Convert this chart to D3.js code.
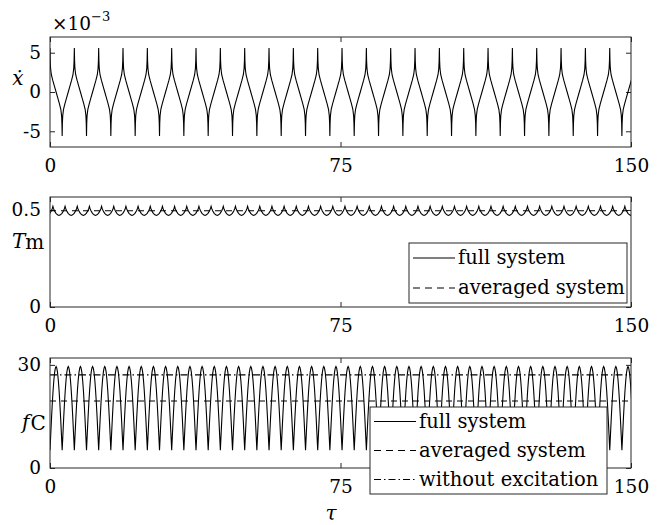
<!DOCTYPE html>
<html>
<head>
<meta charset="utf-8">
<script src="https://cdn.jsdelivr.net/npm/d3@7"></script>
<style>
  body { margin: 0; background: #fff; }
  svg text { font-family: "DejaVu Serif", serif; fill: #000; }
</style>
</head>
<body>
<svg width="661" height="525"></svg>
<script>
// tau axis
const tauMax = 150;
const tauTicks = [0, 75, 150];

// x-dot (x 1e-3): one period, phase in rad
const xdotPeriod = 6.283;
const xdotPhase = [0, 0.06, 0.15, 0.35, 0.7, 1.1, 1.571, 2.04, 2.44, 2.79, 2.99, 3.08, 3.142,
                   3.2, 3.29, 3.49, 3.84, 4.24, 4.712, 5.18, 5.58, 5.93, 6.13, 6.22, 6.283];
const xdotValue = [5.6, 4.0, 3.0, 2.2, 1.5, 0.8, 0, -0.8, -1.5, -2.2, -3.0, -4.0, -5.6,
                   -4.0, -3.0, -2.2, -1.5, -0.8, 0, 0.8, 1.5, 2.2, 3.0, 4.0, 5.6];
const xdotTicks = [-5, 0, 5];

// T_m: full system, one period starting at a peak
const tmPeriod = 3.1416;
const tmFirstPeak = 0.75;
const tmPhase = [0, 0.15, 0.4, 0.8, 1.2, 1.571, 1.94, 2.34, 2.74, 2.99, 3.1416];
const tmValue = [0.519, 0.508, 0.496, 0.483, 0.475, 0.472, 0.475, 0.483, 0.496, 0.508, 0.519];
const tmAveraged = 0.496;
const tmTicks = [0, 0.5];

// f_c: full system, one period starting at a trough
const fcPeriod = 3.1416;
const fcPhase = [0, 0.2, 0.4, 0.6, 0.8, 1.0, 1.2, 1.4, 1.571, 1.74, 1.94, 2.14, 2.34, 2.54, 2.74, 2.94, 3.1416];
const fcValue = [5.2, 10.0, 14.7, 18.9, 22.6, 25.6, 27.8, 29.1, 29.5, 29.1, 27.8, 25.6, 22.6, 18.9, 14.7, 10.0, 5.2];
const fcAveraged = 19.5;
const fcNoExcitation = 27.1;
const fcTicks = [0, 30];

// repeat one measured cycle along tau
function tile(phase, value, period, start) {
    const pts = [];
    for (let t0 = start; t0 < tauMax; t0 += period) {
        phase.forEach((p, i) => {
            if (i === 0 && pts.length) return;
            pts.push({ t: t0 + p, v: value[i] });
        });
    }
    return pts;
}

const FONT = "DejaVu Serif";
const svg = d3.select("svg");
const left = 50, right = 631, panelH = 110;
const x = d3.scaleLinear().domain([0, tauMax]).range([left, right]);

function styleAxis(a) {
    a.attr("font-family", FONT).attr("font-size", 18.5);
    a.select(".domain").remove();
    a.selectAll("text").attr("fill", "#000");
    a.selectAll("line").attr("stroke", "#262626");
}

function panel(top, yDomain, yTicks, tickFmt, clipId) {
    const y = d3.scaleLinear().domain(yDomain).range([top + panelH, top]);
    const g = svg.append("g");
    g.append("clipPath").attr("id", clipId)
        .append("rect").attr("x", left).attr("y", top).attr("width", right - left).attr("height", panelH);

    // ticks on all four sides, pointing inward
    g.append("g").attr("transform", `translate(${left},0)`)
        .call(d3.axisLeft(y).tickValues(yTicks).tickSize(-5).tickPadding(9).tickFormat(tickFmt))
        .call(styleAxis);
    g.append("g").attr("transform", `translate(${right},0)`)
        .call(d3.axisRight(y).tickValues(yTicks).tickSize(-5).tickFormat(""))
        .call(styleAxis);
    g.append("g").attr("transform", `translate(0,${top + panelH})`)
        .call(d3.axisBottom(x).tickValues(tauTicks).tickSize(-5).tickPadding(12).tickFormat(d3.format("d")))
        .call(styleAxis);
    g.append("g").attr("transform", `translate(0,${top})`)
        .call(d3.axisTop(x).tickValues(tauTicks).tickSize(-5).tickFormat(""))
        .call(styleAxis);

    const plot = g.append("g").attr("clip-path", `url(#${clipId})`);
    return { y, g, plot, top };
}

function curve(p, data, dash) {
    p.plot.append("path")
        .datum(data)
        .attr("fill", "none")
        .attr("stroke", "#000")
        .attr("stroke-width", 1.1)
        .attr("stroke-dasharray", dash || null)
        .attr("d", d3.line().x(d => x(d.t)).y(d => p.y(d.v)));
}

function frame(p) {
    p.g.append("rect")
        .attr("x", left).attr("y", p.top)
        .attr("width", right - left).attr("height", panelH)
        .attr("fill", "none").attr("stroke", "#262626").attr("stroke-width", 1);
}

function legend(x0, y0, w, h, rows) {
    const lg = svg.append("g").attr("transform", `translate(${x0},${y0})`);
    lg.append("rect").attr("width", w).attr("height", h)
        .attr("fill", "#fff").attr("stroke", "#262626").attr("stroke-width", 1);
    const step = h / rows.length;
    rows.forEach((r, i) => {
        const cy = step * (i + 0.5);
        lg.append("line").attr("x1", 4).attr("x2", 46).attr("y1", cy).attr("y2", cy)
            .attr("stroke", "#000").attr("stroke-width", 1.1)
            .attr("stroke-dasharray", r.dash || null);
        lg.append("text").attr("x", 49).attr("y", cy).attr("dy", "0.33em")
            .attr("font-size", 19.5).text(r.label);
    });
}

// panel 1: x-dot
const p1 = panel(37, [-7, 7], xdotTicks, d => d < 0 ? "-" + Math.abs(d) : d, "c1");
curve(p1, tile(xdotPhase, xdotValue, xdotPeriod, 0));
frame(p1);
const mult = svg.append("text").attr("x", 52).attr("y", 30).attr("font-size", 18.5);
mult.append("tspan").text("×10");
mult.append("tspan").attr("dy", -9).attr("font-size", 13).text("−3");
svg.append("text").attr("x", 18).attr("y", 85).attr("text-anchor", "middle")
    .attr("font-size", 20).style("font-style", "italic").text("ẋ");

// panel 2: T_m
const p2 = panel(197, [0, 0.567], tmTicks, d => d === 0 ? "0" : d3.format(".1f")(d), "c2");
curve(p2, tile(tmPhase, tmValue, tmPeriod, tmFirstPeak - tmPeriod));
curve(p2, [{ t: 0, v: tmAveraged }, { t: tauMax, v: tmAveraged }], "6 5");
frame(p2);
const tm = svg.append("text").attr("x", 12).attr("y", 248).attr("font-size", 20);
tm.append("tspan").style("font-style", "italic").text("T");
tm.append("tspan").attr("dy", 1).text("m");
legend(409, 243, 218, 60, [
    { label: "full system" },
    { label: "averaged system", dash: "7 5" }
]);

// panel 3: f_c
const p3 = panel(358, [0, 32], fcTicks, d3.format("d"), "c3");
curve(p3, tile(fcPhase, fcValue, fcPeriod, 0));
curve(p3, [{ t: 0, v: fcAveraged }, { t: tauMax, v: fcAveraged }], "6 5");
curve(p3, [{ t: 0, v: fcNoExcitation }, { t: tauMax, v: fcNoExcitation }], "7 3 1.5 3");
frame(p3);
const fc = svg.append("text").attr("x", 22).attr("y", 429).attr("font-size", 20);
fc.append("tspan").style("font-style", "italic").text("f");
fc.append("tspan").attr("dx", 1).attr("dy", 1).text("C");
legend(370, 407, 237, 87, [
    { label: "full system" },
    { label: "averaged system", dash: "7 5" },
    { label: "without excitation", dash: "7 3 1.5 3" }
]);

// tau label
svg.append("text").attr("x", 331).attr("y", 520).attr("text-anchor", "middle")
    .attr("font-size", 20).style("font-style", "italic").text("τ");
</script>
</body>
</html>
